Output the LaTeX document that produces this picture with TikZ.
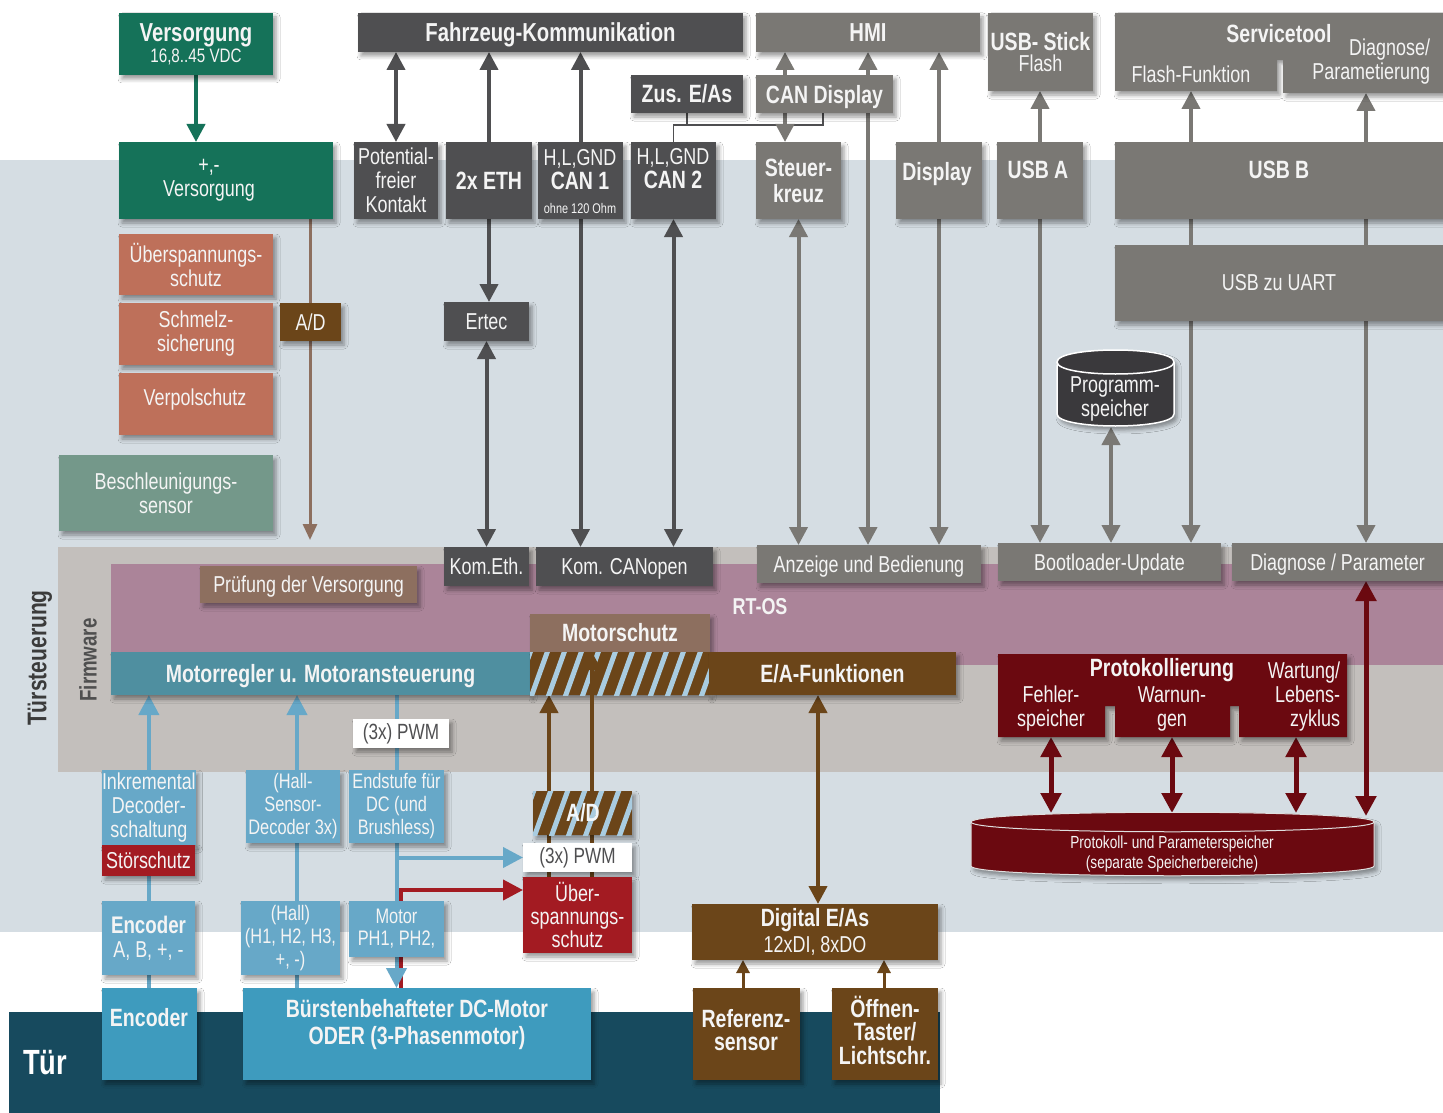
\documentclass[tikz,border=0pt]{standalone}
\usepackage{fontspec}
\setmainfont{Liberation Sans}[FakeStretch=0.78]
\usetikzlibrary{arrows.meta,shadows.blur}
\pgfdeclarelayer{bgfill}
\pgfdeclarelayer{conn}
\pgfsetlayers{bgfill,conn,main}
\definecolor{cLight}{HTML}{D5DDE3}
\definecolor{cFw}{HTML}{C3BFBC}
\definecolor{cPink}{HTML}{AB8499}
\definecolor{cTuer}{HTML}{174A5E}
\definecolor{cDark}{HTML}{4F4F51}
\definecolor{cGray}{HTML}{7A7874}
\definecolor{cGreen}{HTML}{157259}
\definecolor{cSalmon}{HTML}{BE705A}
\definecolor{cBrown}{HTML}{6B4519}
\definecolor{cTaupe}{HTML}{8D6F5F}
\definecolor{cSage}{HTML}{74988A}
\definecolor{cTeal}{HTML}{4F8FA0}
\definecolor{cLBlue}{HTML}{67A8C8}
\definecolor{cMBlue}{HTML}{3E9BBE}
\definecolor{cRed}{HTML}{A31B22}
\definecolor{cDRed}{HTML}{6B0910}
\definecolor{cPsp}{HTML}{3A393C}
\definecolor{cHatch}{HTML}{A9CCE0}
\definecolor{cTxt}{HTML}{F4F4F4}
\definecolor{cLbl}{HTML}{3B3B3B}
\newcommand\fHB{\fontsize{25}{26}\selectfont\bfseries}
\newcommand\fHBt{\fontsize{25}{23.5}\selectfont\bfseries}
\newcommand\fRG{\fontsize{23}{24}\selectfont}
\newcommand\fRGs{\fontsize{21}{23}\selectfont}
\newcommand\fSM{\fontsize{17.5}{20}\selectfont}
\newcommand\fTN{\fontsize{14}{15}\selectfont}
\newcommand\fPWM{\fontsize{22}{22}\selectfont}
\newcommand\bxnode[6][]{\node[bx,minimum width=#5pt,minimum height=#6pt,#1] (#2) at (#3,#4)}
\tikzset{
 shd/.style={blur shadow={shadow xshift=3pt,shadow yshift=-4pt,shadow blur radius=4pt,shadow opacity=40}},
 bx/.style={inner sep=0pt,outer sep=0pt,anchor=north west,text=cTxt,align=center,font=\fRG,shd},
 tx/.style={inner sep=0pt,outer sep=0pt,text=cTxt,align=center,font=\fRG},
 nd/.style={text depth=0pt},
 ln/.style={line width=4pt},
 ar/.style={line width=4pt,-{Triangle[width=18pt,length=18pt]}},
 dar/.style={line width=4pt,{Triangle[width=18pt,length=18pt]}-{Triangle[width=18pt,length=18pt]}},
 ar3/.style={line width=4pt,-{Triangle[width=20pt,length=20pt]}},
 dar2/.style={line width=5pt,{Triangle[width=20pt,length=20pt]}-{Triangle[width=20pt,length=20pt]}},
 arS/.style={line width=3pt,-{Triangle[width=13pt,length=13pt]}},
 bus/.style={line width=1.5pt},
 hln/.style={cHatch,line width=5pt},
}
\begin{document}
\begin{tikzpicture}[x=1pt,y=-1pt]
\useasboundingbox (0,0) rectangle (1443,1113);

% column coordinates
\coordinate (k297) at (297,0);
\coordinate (k310) at (310,0);
\coordinate (k401) at (401,0);
\coordinate (k549) at (549,0);
\coordinate (k592) at (592,0);
\coordinate (k687) at (687,0);
\coordinate (k743) at (743,0);
\coordinate (k785) at (785,0);
\coordinate (k818) at (818,0);
\coordinate (k823) at (823,0);
\coordinate (k868) at (868,0);
\coordinate (k884) at (884,0);
\coordinate (k1111) at (1111,0);
\coordinate (k1191) at (1191,0);
\coordinate (k1366) at (1366,0);
\coordinate (kBus) at (0,125);
\coordinate (kRed) at (0,890);

% ---------- top row
\bxnode[fill=cGreen]{vers}{119}{13}{154}{62}{{\fontsize{26}{26}\selectfont\bfseries Versorgung}\\[-3pt]{\fontsize{19.5}{20}\selectfont 16,8..45 VDC}};
\bxnode[fill=cDark,nd,font=\fontsize{26}{26}\selectfont\bfseries]{fzk}{358}{13}{385}{39}{Fahrzeug-Kommunikation};
\bxnode[fill=cGray,font=\fontsize{26}{26}\selectfont\bfseries]{hmi}{756}{13}{224}{39}{HMI};
\bxnode[fill=cGray]{usbs}{988}{13}{105}{78}{{\fHB USB- Stick}\\[-3pt]Flash};
\fill[cGray,shd] (1115,13) -- (1443,13) -- (1443,93) -- (1283,93) -- (1283,60) -- (1277,60) -- (1277,91) -- (1115,91) -- cycle;
\node[tx,font=\fHB] (svcT) at (1279,34) {Servicetool};
\node[tx] (svcF) at (1191,74) {Flash-Funktion};
\node[tx,align=right,anchor=east] (svcD) at (1430,62) {Diagnose/\\Parametierung};
\coordinate (svcFb) at (1191,91);
\coordinate (svcDb) at (1366,93);
\bxnode[fill=cDark,font=\fHB]{zus}{631}{75}{112}{38}{Zus. E/As};
\bxnode[fill=cGray,nd,font=\fHB]{cand}{756}{75}{137}{38}{CAN Display};

% ---------- second row
\bxnode[fill=cGreen]{vpm}{119}{142}{214}{77}{};
\node[tx] (vpmT) at (209,180) {+,-\\Versorgung};
\bxnode[fill=cDark]{pot}{354}{142}{84}{77}{Potential-\\freier\\Kontakt};
\bxnode[fill=cDark,font=\fHB]{eth}{446}{142}{86}{77}{2x ETH};
\bxnode[fill=cDark]{can1}{538}{142}{85}{77}{};
\node[tx] (can1T) at (580,182) {H,L,GND\\{\fHB CAN 1}\\{\fTN ohne 120 Ohm}};
\bxnode[fill=cDark]{can2}{631}{142}{85}{77}{};
\node[tx] (can2T) at (673,169) {H,L,GND\\{\fHB CAN 2}};
\bxnode[fill=cGray,font=\fHB]{steu}{756}{142}{85}{77}{Steuer-\\kreuz};
\bxnode[fill=cGray]{disp}{896}{142}{86}{77}{};
\node[tx,nd,font=\fHB] (dispT) at (937,171) {Display};
\bxnode[fill=cGray]{usba}{997}{142}{86}{77}{};
\node[tx,font=\fHB] (usbaT) at (1038,170) {USB A};
\bxnode[fill=cGray]{usbb}{1115}{142}{328}{77}{};
\node[tx,font=\fHB] (usbbT) at (1279,170) {USB B};
\bxnode[fill=cGray]{uart}{1115}{245}{328}{76}{USB zu UART};

% ---------- left stack
\bxnode[fill=cSalmon]{ueb}{119}{234}{154}{61}{Überspannungs-\\schutz};
\bxnode[fill=cSalmon]{schm}{119}{303}{154}{62}{Schmelz-\\sicherung};
\bxnode[fill=cSalmon]{verp}{119}{373}{154}{62}{};
\node[tx] (verpT) at (195,400) {Verpolschutz};
\bxnode[fill=cBrown]{adv}{280}{303}{61}{38}{A/D};
\bxnode[fill=cSage]{besch}{59}{455}{214}{76}{Beschleunigungs-\\sensor};
\bxnode[fill=cDark]{ertec}{444}{302}{85}{39}{Ertec};

% Programmspeicher cylinder
\fill[cPsp,shd] (1057,362) -- (1057,414) .. controls (1057,430) and (1174,430) .. (1174,414) -- (1174,362) .. controls (1174,346) and (1057,346) .. (1057,362) -- cycle;
\draw[white,line width=1.5pt] (1057,362) -- (1057,414) .. controls (1057,430) and (1174,430) .. (1174,414) -- (1174,362) .. controls (1174,346) and (1057,346) .. (1057,362) -- cycle;
\draw[white,line width=1.5pt] (1057,362) .. controls (1057,378) and (1174,378) .. (1174,362);
\node[tx] (psp) at (1115,399) {Programm-\\speicher};
\coordinate (pspB) at (1111,427);

% ---------- firmware
\bxnode[fill=cDark]{keth}{444}{547}{85}{39}{Kom.Eth.};
\bxnode[fill=cDark,nd]{kcan}{536}{547}{177}{39}{Kom. CANopen};
\bxnode[fill=cGray,nd]{anz}{757}{545}{224}{38}{Anzeige und Bedienung};
\bxnode[fill=cGray,nd]{boot}{998}{543}{223}{38}{Bootloader-Update};
\bxnode[fill=cGray,nd]{diag}{1232}{543}{211}{38}{Diagnose / Parameter};
\bxnode[fill=cTaupe,nd]{pruef}{200}{566}{217}{37}{Prüfung der Versorgung};
\node[tx,font=\fontsize{23}{23}\selectfont\bfseries] (rtos) at (760,607) {RT-OS};
\bxnode[fill=cTaupe,font=\fHB]{mschutz}{530}{614}{180}{38}{Motorschutz};
\bxnode[fill=cTeal,nd,font=\fHB]{mreg}{111}{652}{419}{43}{Motorregler u. Motoransteuerung};
\bxnode[fill=cBrown]{mhatch}{530}{652}{179}{43}{};
\begin{scope}
\clip (530,652) rectangle (709,695);
\foreach \i in {-1,...,11} \draw[hln] (530+\i*17,700) -- ++(18,-50);
\end{scope}
\bxnode[fill=cBrown,font=\fHB]{eaf}{709}{652}{247}{43}{E/A-Funktionen};

% Protokollierung
\fill[cDRed,shd] (998,654) -- (1347,654) -- (1347,737) -- (1239,737) -- (1239,706) -- (1230,706) -- (1230,737) -- (1115,737) -- (1115,706) -- (1105,706) -- (1105,737) -- (998,737) -- cycle;
\node[tx,font=\fHB] (protT) at (1162,670) {Protokollierung};
\node[tx] (protF) at (1051,709) {Fehler-\\speicher};
\node[tx] (protW) at (1172,709) {Warnun-\\gen};
\node[tx,align=right,anchor=east] (protL) at (1340,697) {Wartung/\\Lebens-\\zyklus};
\coordinate (pFb) at (1051,737);
\coordinate (pWb) at (1172,737);
\coordinate (pLb) at (1296,737);

% Protokoll cylinder
\fill[cDRed,shd] (971,822) -- (971,866) .. controls (971,879) and (1374,879) .. (1374,866) -- (1374,822) .. controls (1374,809) and (971,809) .. (971,822) -- cycle;
\draw[white!75!gray,line width=1pt] (971,822) -- (971,866) .. controls (971,879) and (1374,879) .. (1374,866) -- (1374,822) .. controls (1374,809) and (971,809) .. (971,822) -- cycle;
\draw[white!75!gray,line width=1pt] (971,822) .. controls (971,835) and (1374,835) .. (1374,822);
\node[tx,font=\fSM] (pkp) at (1172,854) {Protokoll- und Parameterspeicher\\(separate Speicherbereiche)};
\coordinate (cF) at (1051,813);
\coordinate (cW) at (1172,813);
\coordinate (cL) at (1296,813);
\coordinate (cD) at (1366,816);

% ---------- hardware bottom
\bxnode[fill=white,text=cDark,font=\fPWM]{pwm1}{353}{719}{96}{29}{(3x) PWM};
\bxnode[fill=cLBlue]{inkr}{102}{770}{93}{75}{Inkremental\\Decoder-\\schaltung};
\bxnode[fill=cRed]{stoer}{102}{845}{93}{31}{Störschutz};
\bxnode[fill=cLBlue,font=\fRGs]{halld}{246}{770}{94}{73}{(Hall-\\Sensor-\\Decoder 3x)};
\bxnode[fill=cLBlue,font=\fRGs]{endst}{349}{770}{95}{73}{Endstufe für\\DC (und\\Brushless)};
\bxnode[fill=cBrown]{adh}{533}{791}{99}{44}{};
\begin{scope}
\clip (533,791) rectangle (632,835);
\foreach \i in {-1,...,6} \draw[hln] (533+\i*17,840) -- ++(18,-50);
\end{scope}
\node[tx,font=\fHB,text=white!85!cHatch] (adhT) at (583,813) {A/D};
\bxnode[fill=white,text=cDark,font=\fPWM]{pwm2}{523}{843}{109}{29}{(3x) PWM};
\bxnode[fill=cRed,font=\fontsize{23}{23}\selectfont]{uebm}{523}{877}{109}{76}{Über-\\spannungs-\\schutz};
\bxnode[fill=cBrown]{dig}{692}{904}{246}{56}{{\fHB Digital E/As}\\[2pt]12xDI, 8xDO};
\bxnode[fill=cBrown]{ref}{693}{988}{107}{92}{};
\node[tx,font=\fHBt] (refT) at (746,1030) {Referenz-\\sensor};
\bxnode[fill=cBrown]{oeff}{832}{988}{106}{92}{};
\node[tx,font=\fHBt] (oeffT) at (885,1030) {Öffnen-\\Taster/\\Lichtschr.};
\bxnode[fill=cLBlue]{enc}{102}{901}{93}{74}{{\fontsize{24}{24}\selectfont\bfseries Encoder}\\A, B, +, -};
\bxnode[fill=cLBlue,font=\fRGs]{hall}{241}{901}{99}{74}{(Hall)\\(H1, H2, H3,\\+, -)};
\bxnode[fill=cLBlue,font=\fontsize{21}{22}\selectfont]{mph}{349}{901}{95}{56}{Motor\\PH1, PH2,};
\bxnode[fill=cMBlue]{encb}{102}{988}{95}{92}{};
\node[tx,font=\fHB] (encbT) at (149,1018) {Encoder};
\bxnode[fill=cMBlue]{motor}{243}{988}{348}{92}{};
\node[tx,font=\fontsize{25}{27}\selectfont\bfseries] (motorT) at (417,1025) {Bürstenbehafteter DC-Motor\\ODER (3-Phasenmotor)};
\node[tx,font=\fontsize{35}{36}\selectfont\bfseries,text=white] (tuer) at (45,1063) {Tür};
\node[tx,rotate=90,font=\fontsize{27}{28}\selectfont\bfseries,text=cLbl] (tst) at (40,658) {Türsteuerung};
\node[tx,rotate=90,font=\fontsize{24}{25}\selectfont\bfseries,text=cLbl!90!white] (fwl) at (88,660) {Firmware};

% brown arrow in front of hatch
\draw[ar,cBrown] (k592 |- adh.north) -- (k592 |- mschutz.south);

% ---------- connectors (behind boxes)
\begin{pgfonlayer}{conn}
\draw[ar,cGreen] (vers.south) -- (vers.south |- vpm.north);
\draw[dar,cDark] (pot.north |- fzk.south) -- (pot.north);
\draw[ar,cDark] (eth.north) -- (eth.north |- fzk.south);
\draw[ar,cDark] (can1.north) -- (can1.north |- fzk.south);
\draw[ar,cDark] (eth.south) -- (eth.south |- ertec.north);
\draw[dar,cDark] (ertec.south) -- (ertec.south |- keth.north);
\draw[ar,cDark] (can1.south) -- (can1.south |- kcan.north);
\draw[dar,cDark] (can2.south) -- (can2.south |- kcan.north);
\draw[bus,cDark] (can2.north) -- (can2.north |- kBus) -- (k823 |- kBus) -- (k823 |- cand.south);
\draw[bus,cDark] (k687 |- zus.south) -- (k687 |- kBus);
\draw[dar,cGray] (k785 |- hmi.south) -- (k785 |- steu.north);
\draw[dar,cGray] (k868 |- hmi.south) -- (k868 |- anz.north);
\draw[ar,cGray] (disp.north) -- (disp.north |- hmi.south);
\draw[dar,cGray] (steu.south) -- (steu.south |- anz.north);
\draw[ar,cGray] (disp.south) -- (disp.south |- anz.north);
\draw[ar,cGray] (usba.north) -- (usba.north |- usbs.south);
\draw[ar,cGray] (usba.south) -- (usba.south |- boot.north);
\draw[ar,cGray] (k1191 |- usbb.north) -- (svcFb);
\draw[ar,cGray] (k1366 |- usbb.north) -- (svcDb);
\draw[ln,cGray] (k1191 |- usbb.south) -- (k1191 |- uart.north);
\draw[ln,cGray] (k1366 |- usbb.south) -- (k1366 |- uart.north);
\draw[ar,cGray] (k1191 |- uart.south) -- (k1191 |- boot.north);
\draw[ar,cGray] (k1366 |- uart.south) -- (k1366 |- diag.north);
\draw[dar,cGray] (pspB) -- (k1111 |- boot.north);
\draw[cTaupe,line width=3pt,-{Triangle[width=14pt,length=16pt]}] (k310 |- vpm.south) -- (310,540);
\draw[dar2,cDRed] (k1366 |- diag.south) -- (cD);
\draw[dar2,cDRed] (pFb) -- (cF);
\draw[dar2,cDRed] (pWb) -- (cW);
\draw[dar2,cDRed] (pLb) -- (cL);
\draw[ar3,cLBlue] (inkr.north) -- (inkr.north |- mreg.south);
\draw[ar3,cLBlue] (k297 |- halld.north) -- (k297 |- mreg.south);
\draw[ln,cLBlue] (endst.north) -- (endst.north |- mreg.south);
\draw[ln,cLBlue] (stoer.south) -- (enc.north);
\draw[ln,cLBlue] (enc.south) -- (enc.south |- encb.north);
\draw[ln,cLBlue] (k297 |- halld.south) -- (k297 |- hall.north);
\draw[ln,cLBlue] (k297 |- hall.south) -- (k297 |- motor.north);
\draw[ar3,cRed] (k401 |- motor.north) -- (k401 |- kRed) -- (uebm.west |- kRed);
\draw[ar3,cLBlue] (endst.south) -- (endst.south |- motor.north);
\draw[ar3,cLBlue] (endst.south |- pwm2.west) -- (pwm2.west);
\draw[ar,cBrown] (k549 |- adh.north) -- (k549 |- mhatch.south);
\draw[ln,cBrown] (k549 |- uebm.north) -- (k549 |- adh.south);
\draw[ln,cBrown] (k592 |- uebm.north) -- (k592 |- adh.south);
\draw[dar,cBrown] (k818 |- eaf.south) -- (k818 |- dig.north);
\draw[arS,cBrown] (k743 |- ref.north) -- (k743 |- dig.south);
\draw[arS,cBrown] (k884 |- oeff.north) -- (k884 |- dig.south);
\end{pgfonlayer}

% backgrounds (drawn last in code, lowest layer)
\begin{pgfonlayer}{bgfill}
\fill[white] (0,0) rectangle (1443,1113);
\fill[cLight] (0,160) rectangle (1443,932);
\fill[cFw] (58,547) rectangle (1443,772);
\fill[cPink] (111,564) rectangle (1443,665);
\fill[cTuer] (9,1012) rectangle (940,1113);
\end{pgfonlayer}
\end{tikzpicture}
\end{document}
